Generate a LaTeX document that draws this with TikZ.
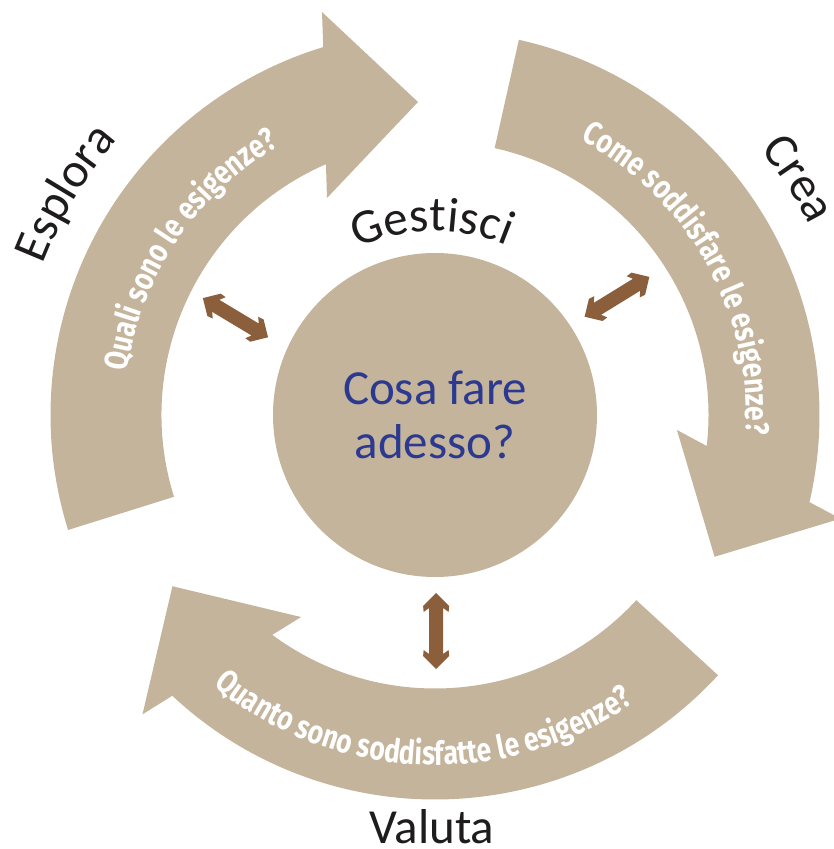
\documentclass[tikz,border=0pt]{standalone}
\usepackage{fontspec}
\setmainfont{Carlito}
\newfontfamily\qfont[FakeStretch=0.8]{Fira Sans}
\usetikzlibrary{decorations.text}

\definecolor{sand}{RGB}{196,180,155}
\definecolor{ink}{RGB}{43,57,144}
\definecolor{bark}{RGB}{139,94,60}
\definecolor{coal}{RGB}{30,28,28}

% big curved arrow of the cycle, turned by #1
\newcommand\bandarrow[1]{%
  \fill[sand, rotate=#1] (197.4:384.5pt) arc[start angle=197.4, end angle=106.9, radius=384.5pt]
    -- (-113,403) -- (-17,313) -- (-108,217)
    -- (113.5:273.5pt) arc[start angle=113.5, end angle=197.4, radius=273.5pt] -- cycle;}
% small two-headed arrow at #1, turned by #2
\newcommand\twoway[2]{%
  \fill[bark, shift={(#1)}, rotate=#2] (38,0) -- (25,13) -- (19,12.5) -- (23,7) -- (-23,7)
    -- (-19,12.5) -- (-25,13) -- (-38,0) -- (-25,-13) -- (-19,-12.5) -- (-23,-7)
    -- (23,-7) -- (19,-12.5) -- (25,-13) -- cycle;}
\newcommand\stepfont{\color{coal}\fontsize{49}{54}\selectfont}
\newcommand\askfont{\qfont\bfseries\fontsize{33}{36}\selectfont}

\begin{document}
\begin{tikzpicture}[x=1pt, y=1pt,
    asktext/.style={decorate, decoration={text along path, text align=center,
        text color=white, text={|\askfont|#1}}},
    steptext/.style={decorate, decoration={text along path, text align=center,
        text={|\stepfont|#1}}}]
	\useasboundingbox (-435,-434) rectangle (399,415);
	\clip (-435,-434) rectangle (399,415);

	\bandarrow{0}
	\bandarrow{-120}
	\bandarrow{-240}

	\node[circle, fill=sand, minimum size=324pt, inner sep=0pt, text=ink, align=center,
		font=\fontsize{49}{54}\selectfont] (core) at (0,0) {Cosa fare\\adesso?};

	% questions inside the arrows
	\path[asktext={Quali sono le esigenze?}] (186:311pt) arc[start angle=186, end angle=106, radius=311pt];
	\path[asktext={Come soddisfare le esigenze?}] (69.4:311pt) arc[start angle=69.4, end angle=-10.6, radius=311pt];
	\path[asktext={Quanto sono soddisfatte le esigenze?}] (217.7:350pt) arc[start angle=217.7, end angle=317.7, radius=350pt];

	% names of the steps
	\path[steptext={Esplora}] (174:420pt) arc[start angle=174, end angle=124, radius=420pt];
	\path[steptext={Crea}] (58:420pt) arc[start angle=58, end angle=8, radius=420pt];
	\path[steptext={Gestisci}] (131:184pt) arc[start angle=131, end angle=51, radius=184pt];
	\node[anchor=base, font=\stepfont] (valuta) at (-3,-428) {Valuta};

	\coordinate (gl) at (154:222pt);
	\coordinate (gr) at (33:217pt);
	\coordinate (gb) at (-89.7:216pt);
	\twoway{gl}{-31}
	\twoway{gr}{31.6}
	\twoway{gb}{90}
\end{tikzpicture}
\end{document}
